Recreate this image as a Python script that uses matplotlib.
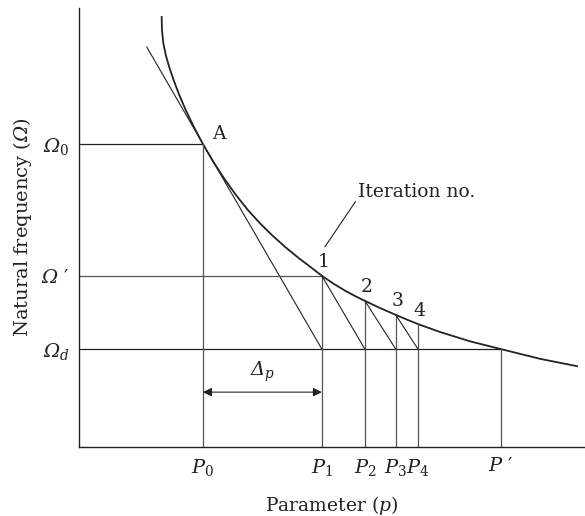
import matplotlib
matplotlib.use("Agg")
import matplotlib.pyplot as plt

plt.rcParams['font.family'] = ['DejaVu Serif']
plt.rcParams['mathtext.fontset'] = 'custom'
plt.rcParams['mathtext.rm'] = 'DejaVu Serif'
plt.rcParams['mathtext.it'] = 'DejaVu Serif:italic'
# \mathcal is used as a slanted serif so capital Greek letters come out italic
plt.rcParams['mathtext.cal'] = 'DejaVu Serif:italic'

# frequency curve read along its length (parameter, frequency)
curve_p = [16.34, 16.40, 16.66, 17.15, 17.83, 18.70, 19.82, 21.09, 22.71, 24.5,
           26.48, 28.66, 31.03, 33.40, 35.77, 38.14, 40.71, 43.28, 45.65, 48.0,
           50.40, 52.77, 54.74, 56.5, 59.49, 62.6, 64.82, 67.0,
           71.34, 77.27, 83.4, 91.11, 98.42]
curve_w = [97.95, 94.99, 92.03, 89.29, 86.56, 83.60, 80.18, 76.77, 72.89, 69.0,
           65.10, 61.21, 57.38, 53.96, 50.96, 48.27, 45.60, 43.17, 41.09, 39.0,
           37.13, 35.49, 34.28, 33.3, 31.66, 30.1, 29.02, 28.0,
           26.20, 24.08, 22.3, 20.09, 18.41]

# starting point A and the tangent drawn through it
p0, omega0 = 24.5, 69.0
tan_p = [13.4, 48.0]
tan_w = [91.1, 22.3]

omega_prime = 39.0
omega_d = 22.3
p_prime = 83.4

# iteration points on the curve
iter_p = [48.0, 56.5, 62.6, 67.0]
iter_w = [39.0, 33.3, 30.1, 28.0]
iter_labels = ['1', '2', '3', '4']

p_ticks = [p0] + iter_p + [p_prime]
p_ticklabels = ['$P_0$', '$P_1$', '$P_2$', '$P_3$', '$P_4$', r'$P\ \prime$']
w_ticks = [omega0, omega_prime, omega_d]
w_ticklabels = [r'$\mathcal{Ω}_0$', r'$\mathcal{Ω}\ \prime$', r'$\mathcal{Ω}_d$']

dark = '#222222'
grey = '#555555'

fig = plt.figure(figsize=(5.85, 5.16), dpi=100)
ax = fig.add_axes([0.135, 0.1337, 0.865, 0.8508])

ax.plot(curve_p, curve_w, color=dark, lw=1.3, solid_joinstyle='round')
ax.plot(tan_p, tan_w, color=dark, lw=0.8)

# horizontal guides
ax.plot([0, p0], [omega0, omega0], color=dark, lw=0.9)
ax.plot([0, iter_p[0]], [omega_prime, omega_prime], color=grey, lw=0.9)
ax.plot([0, p_prime], [omega_d, omega_d], color=dark, lw=0.9)

# vertical guides down to the axis
ax.plot([p0, p0], [0, omega0], color=grey, lw=0.9)
for p, w in zip(iter_p, iter_w):
    ax.plot([p, p], [0, w], color=grey, lw=0.9)
ax.plot([p_prime, p_prime], [0, omega_d], color=grey, lw=0.9)

# secants from each iteration point to the next parameter value
for i in range(len(iter_p) - 1):
    ax.plot([iter_p[i], iter_p[i + 1]], [iter_w[i], omega_d], color=dark, lw=0.8)

for p, w, s in zip(iter_p, iter_w, iter_labels):
    ax.text(p + 0.3, w + 1.0, s, fontsize=13.5, ha='center', va='bottom', color=dark)
ax.text(p0 + 1.8, omega0 + 0.2, 'A', fontsize=13.5, ha='left', va='bottom', color=dark)

# step size arrow
ax.annotate('', xy=(p0, 12.5), xytext=(iter_p[0], 12.5),
            arrowprops=dict(arrowstyle='<|-|>', color=dark, lw=0.8,
                            mutation_scale=13, shrinkA=0, shrinkB=0))
ax.text((p0 + iter_p[0]) / 2, 14.3, r'$\mathcal{Δ}_p$', fontsize=14,
        ha='center', va='bottom', color=dark)

ax.annotate('Iteration no.', xy=(48.6, 45.6), xytext=(55.2, 58.1),
            fontsize=13.5, color=dark, ha='left', va='center',
            arrowprops=dict(arrowstyle='-', color=dark, lw=0.8,
                            shrinkA=0, shrinkB=0, relpos=(-0.01, 0.1)))

ax.set_xlim(0, 100)
ax.set_ylim(0, 100)
ax.set_xticks(p_ticks)
ax.set_xticklabels(p_ticklabels, fontsize=14)
ax.set_yticks(w_ticks)
ax.set_yticklabels(w_ticklabels, fontsize=14)
ax.tick_params(length=0, pad=7, colors=dark)
ax.spines['top'].set_visible(False)
ax.spines['right'].set_visible(False)
for s in ['left', 'bottom']:
    ax.spines[s].set_color(dark)
    ax.spines[s].set_linewidth(1.0)

ax.set_xlabel('Parameter ($p$)', fontsize=13.5, color=dark, labelpad=12)
ax.set_ylabel(r'Natural frequency ($\mathcal{Ω}$)', fontsize=14, color=dark, labelpad=5)

fig.savefig('out.png', dpi=100)
